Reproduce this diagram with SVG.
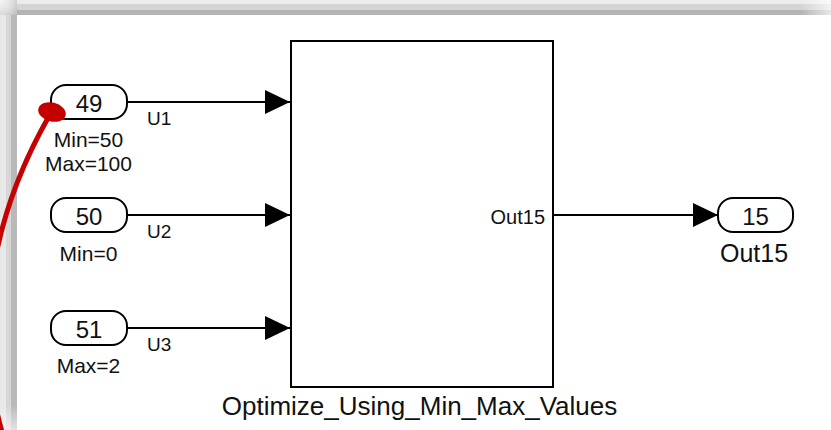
<svg xmlns="http://www.w3.org/2000/svg" width="831" height="430" viewBox="0 0 831 430">
  <style>
    text { font-family: "Liberation Sans", Arial, sans-serif; fill: #111; }
    .port { fill: #fff; stroke: #000; stroke-width: 2; }
    .num { font-size: 24px; text-anchor: middle; }
    .sig { font-size: 19px; }
    .attr { font-size: 21px; text-anchor: middle; }
    .wire { stroke: #000; stroke-width: 2; fill: none; marker-end: url(#arrow); }
  </style>
  <defs>
    <marker id="arrow" markerUnits="userSpaceOnUse" markerWidth="26" markerHeight="24" refX="25" refY="12" orient="auto">
      <path d="M0,0 L25,12 L0,24 Z" fill="#000"/>
    </marker>
    <radialGradient id="corner" cx="0" cy="0" r="22" gradientUnits="userSpaceOnUse">
      <stop offset="0" stop-color="#f6f6f6"/>
      <stop offset="0.6" stop-color="#dedede"/>
      <stop offset="1" stop-color="#bdbdbd"/>
    </radialGradient>
    <linearGradient id="fadeRight" x1="800" y1="0" x2="831" y2="0" gradientUnits="userSpaceOnUse">
      <stop offset="0" stop-color="#fff" stop-opacity="0"/>
      <stop offset="1" stop-color="#fff" stop-opacity="0.7"/>
    </linearGradient>
    <linearGradient id="fadeBottom" x1="0" y1="405" x2="0" y2="430" gradientUnits="userSpaceOnUse">
      <stop offset="0" stop-color="#fff" stop-opacity="0"/>
      <stop offset="1" stop-color="#fff" stop-opacity="0.6"/>
    </linearGradient>
  </defs>

  <!-- canvas and framing shadow -->
  <rect x="0" y="0" width="831" height="430" fill="#fff"/>
  <g id="frame">
    <rect x="17" y="0" width="814" height="4" fill="#ececec"/>
    <rect x="17" y="4" width="814" height="6" fill="#d4d4d4"/>
    <rect x="17" y="10" width="814" height="5" fill="#b4b4b4"/>
    <rect x="0" y="15" width="6" height="415" fill="#e8e8e8"/>
    <rect x="6" y="15" width="5" height="415" fill="#d6d6d6"/>
    <rect x="11" y="15" width="6" height="415" fill="#b9b9b9"/>
    <rect x="0" y="0" width="17" height="15" fill="url(#corner)"/>
    <rect x="800" y="0" width="31" height="15" fill="url(#fadeRight)"/>
    <rect x="0" y="405" width="17" height="25" fill="url(#fadeBottom)"/>
  </g>

  <!-- signal lines -->
  <g id="connectors">
    <path class="wire" d="M127,102 H290"/>
    <path class="wire" d="M127,215 H290"/>
    <path class="wire" d="M127,328 H290"/>
    <path class="wire" d="M554,215 H718"/>
  </g>

  <g id="subsystem">
    <rect x="291" y="41" width="262" height="346" fill="#fff" stroke="#000" stroke-width="2"/>
    <text x="545" y="224" font-size="20" text-anchor="end">Out15</text>
    <text x="419.5" y="415" font-size="26" text-anchor="middle">Optimize_Using_Min_Max_Values</text>
  </g>

  <g id="in49">
    <rect class="port" x="51" y="85" width="76" height="34" rx="15" ry="15"/>
    <text class="num" x="89" y="112">49</text>
    <text class="sig" x="147" y="125">U1</text>
    <text class="attr" x="88.5" y="147">Min=50</text>
    <text class="attr" x="88.5" y="171">Max=100</text>
  </g>

  <g id="in50">
    <rect class="port" x="51" y="198" width="76" height="34" rx="15" ry="15"/>
    <text class="num" x="89" y="225">50</text>
    <text class="sig" x="147" y="238">U2</text>
    <text class="attr" x="88.5" y="261">Min=0</text>
  </g>

  <g id="in51">
    <rect class="port" x="51" y="311" width="76" height="34" rx="15" ry="15"/>
    <text class="num" x="89" y="338">51</text>
    <text class="sig" x="147" y="351">U3</text>
    <text class="attr" x="88.5" y="373">Max=2</text>
  </g>

  <g id="out15">
    <rect class="port" x="718" y="198" width="75" height="34" rx="15" ry="15"/>
    <text class="num" x="755.5" y="225">15</text>
    <text x="754" y="262" font-size="25" text-anchor="middle">Out15</text>
  </g>

  <!-- red callout pointer -->
  <g id="callout">
    <path d="M48,118 C10,185 -35,300 2,432" fill="none" stroke="#c40000" stroke-width="5"/>
    <ellipse cx="52" cy="112" rx="14" ry="9.5" transform="rotate(14 52 112)" fill="#c40000"/>
  </g>
</svg>
